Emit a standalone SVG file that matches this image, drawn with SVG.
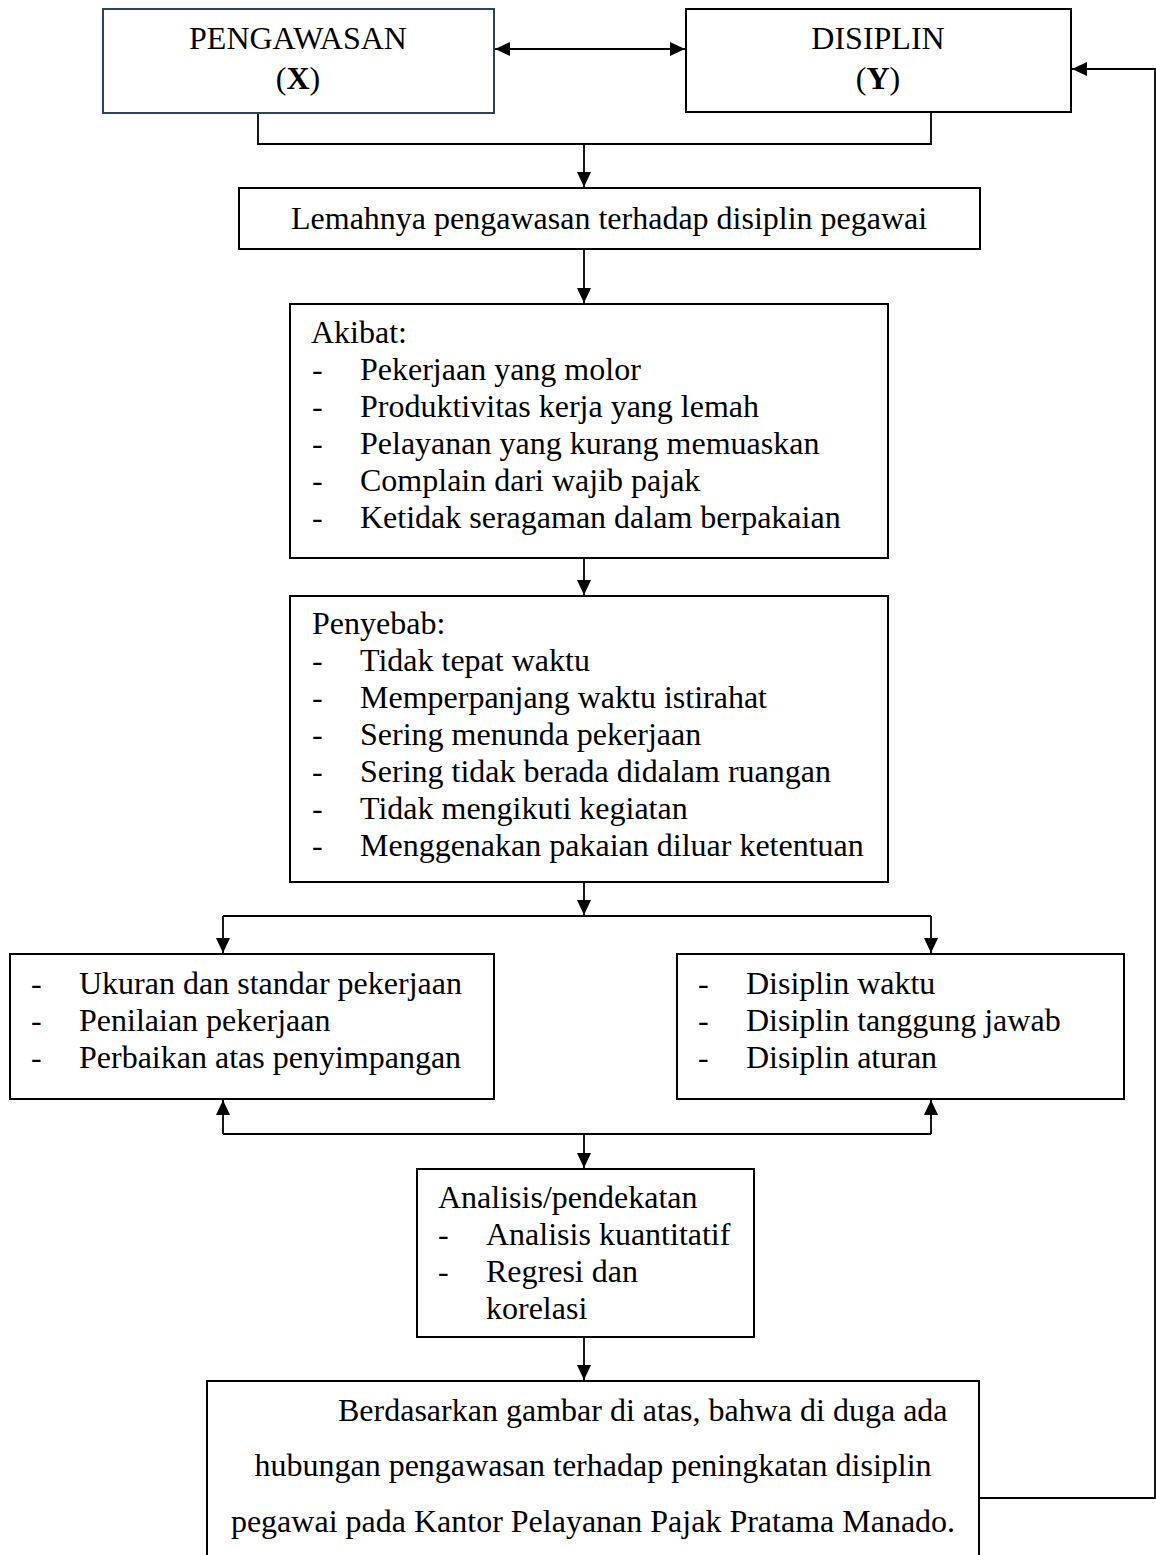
<svg xmlns="http://www.w3.org/2000/svg" width="1156" height="1555" viewBox="0 0 1156 1555">
<defs>
<marker id="ah" markerUnits="userSpaceOnUse" markerWidth="16" markerHeight="14" refX="15" refY="7" orient="auto-start-reverse">
<path d="M0,0 L15,7 L0,14 z" fill="#000"/>
</marker>
<style>
.box{fill:#fff;stroke:#000;stroke-width:2}
.t{font-family:"Liberation Serif","Times New Roman",serif;font-size:32px;fill:#000}
.c{text-anchor:middle}
.ln{fill:none;stroke:#000;stroke-width:1.8}
.ar{fill:none;stroke:#000;stroke-width:1.8;marker-end:url(#ah)}
</style>
</defs>
<rect width="1156" height="1555" fill="#fff"/>

<g id="connectors">
<line class="ar" x1="495" y1="49" x2="685" y2="49" marker-start="url(#ah)"/>
<polyline class="ln" points="258,113 258,144 931,144 931,112"/>
<line class="ar" x1="584" y1="144" x2="584" y2="187"/>
<line class="ar" x1="584" y1="249" x2="584" y2="303"/>
<line class="ar" x1="584" y1="558" x2="584" y2="595"/>
<line class="ar" x1="584" y1="882" x2="584" y2="915"/>
<line class="ln" x1="223" y1="916" x2="931" y2="916"/>
<line class="ar" x1="223" y1="916" x2="223" y2="953"/>
<line class="ar" x1="931" y1="916" x2="931" y2="953"/>
<line class="ln" x1="223" y1="1134" x2="931" y2="1134"/>
<line class="ar" x1="223" y1="1134" x2="223" y2="1100"/>
<line class="ar" x1="931" y1="1134" x2="931" y2="1100"/>
<line class="ar" x1="584" y1="1134" x2="584" y2="1168"/>
<line class="ar" x1="584" y1="1337" x2="584" y2="1380"/>
<polyline class="ar" points="979,1498 1155,1498 1155,69 1072,69"/>
</g>

<g id="pengawasan">
<rect x="103" y="9" width="391" height="104" fill="#fff" stroke="#2b4462" stroke-width="2"/>
<text class="t c" x="298" y="49">PENGAWASAN</text>
<text class="t c" x="298" y="89">(<tspan font-weight="bold">X</tspan>)</text>
</g>

<g id="disiplin">
<rect class="box" x="686" y="9" width="385" height="103"/>
<text class="t c" x="878" y="49">DISIPLIN</text>
<text class="t c" x="878" y="89">(<tspan font-weight="bold">Y</tspan>)</text>
</g>

<g id="lemahnya">
<rect class="box" x="239" y="188" width="741" height="61"/>
<text class="t" x="291" y="229">Lemahnya pengawasan terhadap disiplin pegawai</text>
</g>

<g id="akibat">
<rect class="box" x="290" y="304" width="598" height="254"/>
<text class="t" x="311" y="343">Akibat:</text>
<text class="t" x="312" y="380">-</text><text class="t" x="360" y="380">Pekerjaan yang molor</text>
<text class="t" x="312" y="417">-</text><text class="t" x="360" y="417">Produktivitas kerja yang lemah</text>
<text class="t" x="312" y="454">-</text><text class="t" x="360" y="454">Pelayanan yang kurang memuaskan</text>
<text class="t" x="312" y="491">-</text><text class="t" x="360" y="491">Complain dari wajib pajak</text>
<text class="t" x="312" y="528">-</text><text class="t" x="360" y="528">Ketidak seragaman dalam berpakaian</text>
</g>

<g id="penyebab">
<rect class="box" x="290" y="596" width="598" height="286"/>
<text class="t" x="312" y="634">Penyebab:</text>
<text class="t" x="312" y="671">-</text><text class="t" x="360" y="671">Tidak tepat waktu</text>
<text class="t" x="312" y="708">-</text><text class="t" x="360" y="708">Memperpanjang waktu istirahat</text>
<text class="t" x="312" y="745">-</text><text class="t" x="360" y="745">Sering menunda pekerjaan</text>
<text class="t" x="312" y="782">-</text><text class="t" x="360" y="782">Sering tidak berada didalam ruangan</text>
<text class="t" x="312" y="819">-</text><text class="t" x="360" y="819">Tidak mengikuti kegiatan</text>
<text class="t" x="312" y="856">-</text><text class="t" x="360" y="856">Menggenakan pakaian diluar ketentuan</text>
</g>

<g id="pengawasan-indikator">
<rect class="box" x="10" y="954" width="484" height="145"/>
<text class="t" x="31" y="994">-</text><text class="t" x="79" y="994">Ukuran dan standar pekerjaan</text>
<text class="t" x="31" y="1031">-</text><text class="t" x="79" y="1031">Penilaian pekerjaan</text>
<text class="t" x="31" y="1068">-</text><text class="t" x="79" y="1068">Perbaikan atas penyimpangan</text>
</g>

<g id="disiplin-indikator">
<rect class="box" x="677" y="954" width="447" height="145"/>
<text class="t" x="698" y="994">-</text><text class="t" x="746" y="994">Disiplin waktu</text>
<text class="t" x="698" y="1031">-</text><text class="t" x="746" y="1031">Disiplin tanggung jawab</text>
<text class="t" x="698" y="1068">-</text><text class="t" x="746" y="1068">Disiplin aturan</text>
</g>

<g id="analisis">
<rect class="box" x="417" y="1169" width="337" height="168"/>
<text class="t" x="438" y="1208">Analisis/pendekatan</text>
<text class="t" x="438" y="1245">-</text><text class="t" x="486" y="1245">Analisis kuantitatif</text>
<text class="t" x="438" y="1282">-</text><text class="t" x="486" y="1282">Regresi dan</text>
<text class="t" x="486" y="1319">korelasi</text>
</g>

<g id="kesimpulan">
<path d="M207,1560 V1381 H979 V1560" fill="#fff" stroke="#000" stroke-width="2"/>
<text class="t" x="338" y="1421">Berdasarkan gambar di atas, bahwa di duga ada</text>
<text class="t c" x="593" y="1476">hubungan pengawasan terhadap peningkatan disiplin</text>
<text class="t c" x="593" y="1532">pegawai pada Kantor Pelayanan Pajak Pratama Manado.</text>
</g>
</svg>
